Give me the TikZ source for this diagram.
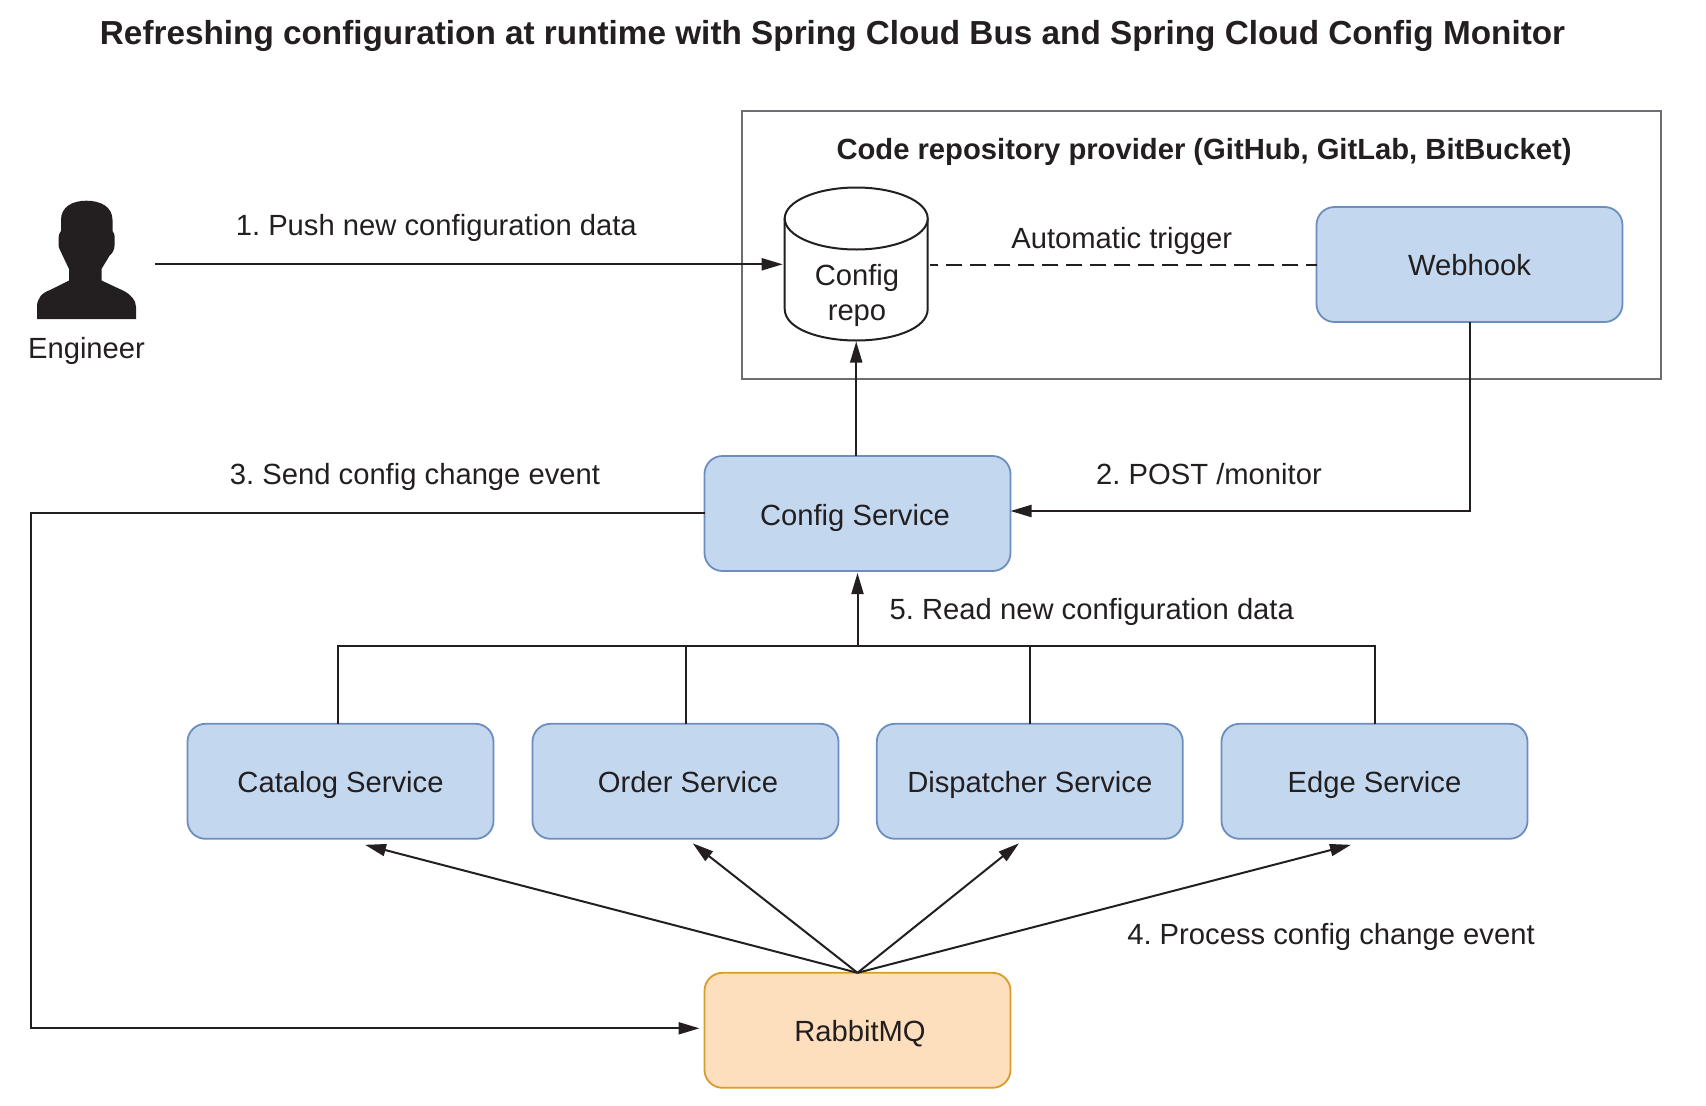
\documentclass[tikz,border=0pt]{standalone}
\usepackage{fontspec}
\setmainfont{Liberation Sans}
\usetikzlibrary{arrows.meta}
\definecolor{ink}{HTML}{231F20}
\definecolor{svcfill}{HTML}{C3D8EF}
\definecolor{svcline}{HTML}{6C8EBF}
\definecolor{mqfill}{HTML}{FDDFBD}
\definecolor{mqline}{HTML}{D99B2B}
\definecolor{framegray}{HTML}{6D6E71}
\tikzset{
  x=1pt,y=-1pt,
  every node/.style={text=ink,font=\fontsize{29.2}{35}\selectfont\frenchspacing,inner sep=0,outer sep=0,text height=23pt,text depth=0pt},
  box/.style={draw,line width=1.8pt,rounded corners=18pt,minimum width=306pt,minimum height=115pt,anchor=center},
  svc/.style={box,draw=svcline,fill=svcfill},
  mq/.style={box,draw=mqline,fill=mqfill},
  lab/.style={anchor=center},
  conn/.style={draw=ink,line width=2pt,-{Stealth[length=21pt,width=12pt,inset=0pt]},shorten >=2pt},
  tight/.style={conn,shorten >=0pt},
  plain/.style={draw=ink,line width=2pt},
  dashline/.style={draw=ink,line width=2pt,dash pattern=on 16pt off 8pt,dash phase=8pt},
}
\begin{document}
\begin{tikzpicture}
\useasboundingbox (0,0) rectangle (1706,1106);
\node[lab,font=\fontsize{33.3}{40}\bfseries\selectfont\frenchspacing] (title) at (832.5,32.5) {Refreshing configuration at runtime with Spring Cloud Bus and Spring Cloud Config Monitor};
% provider frame
\node[draw=framegray,line width=2pt,minimum width=919pt,minimum height=268pt,text height=0pt] (frame) at (1201.5,244.7) {};
\node[lab,font=\fontsize{29.2}{35}\bfseries\selectfont\frenchspacing] (ftitle) at (1204,147.5) {Code repository provider (GitHub, GitLab, BitBucket)};
% engineer
\fill[ink] (37,319) -- (37,307) .. controls (37,298) and (42,293) .. (50,290)
  -- (69,280.5) -- (69,269) -- (60,250) .. controls (58,246) and (58.7,245) .. (58.7,240)
  -- (58.7,237) .. controls (58.7,233) and (61,232) .. (61,231) -- (61,220)
  .. controls (61,207) and (72,200.7) .. (86.5,200.7)
  .. controls (101,200.7) and (112.5,207) .. (112.5,220) -- (112.5,231)
  .. controls (112.5,232) and (114.7,233) .. (114.7,237) -- (114.7,244)
  .. controls (114.7,250) and (112,254) .. (110,255) -- (101.5,269) -- (101.5,280.5)
  -- (124,291) .. controls (131,295) and (136,300) .. (136,307) -- (136,319) -- cycle;
\node[lab] (eng) at (86.5,347) {Engineer};
\coordinate (engout) at (155,264.3);
% config repo cylinder
\node[minimum width=143pt,minimum height=153.5pt,text height=0pt] (repo) at (856.2,263.75) {};
\draw[ink,line width=2pt,fill=white] (784.7,218) -- (784.7,309) .. controls (784.7,329) and (820,340.5) .. (856.2,340.5)
  .. controls (892.4,340.5) and (927.7,329) .. (927.7,309) -- (927.7,218);
\draw[ink,line width=2pt,fill=white] (856.2,218.5) ellipse [x radius=71.5,y radius=31];
\node[lab] (repot1) at (857,273.5) {Config};
\node[lab] (repot2) at (857,308.5) {repo};
% boxes
\node[svc,text height=21pt] (web) at (1469.5,264.5) {Webhook};
\node[svc] (cfg) at (857.5,513.5) {Config Service\hspace*{5pt}};
\node[svc] (cat) at (340.5,781.3) {Catalog Service};
\node[svc] (ord) at (685.5,781.3) {\hspace*{5pt}Order Service};
\node[svc] (dis) at (1029.8,781.3) {Dispatcher Service};
\node[svc] (edg) at (1374.5,781.3) {Edge Service};
\node[mq] (rmq) at (857.5,1030.3) {\hspace*{5pt}RabbitMQ};
% labels
\node[lab] (l1) at (436.3,224) {1. Push new configuration data};
\node[lab] (la) at (1121.7,236.8) {Automatic trigger};
\node[lab] (l2) at (1209,472.5) {2. POST /monitor};
\node[lab] (l3) at (415,472.5) {3. Send config change event};
\node[lab] (l5) at (1091.8,608) {5. Read new configuration data};
\node[lab] (l4) at (1331,933) {4. Process config change event};
% connectors
\draw[conn] (engout) -- (repo.west |- engout);
\coordinate (dashy) at (1000,265.3);
\draw[dashline] ([xshift=2pt]repo.east |- dashy) -- (web.west |- dashy);
\draw[conn,shorten >=1pt] (cfg.north -| repo.south) -- (repo.south);
\draw[tight] (web.south) |- ([yshift=2.5pt]cfg.east);
\coordinate (lft) at (30.5,513);
\draw[conn] ([yshift=0.5pt]cfg.west) -- (lft) |- ([xshift=-3pt,yshift=2pt]rmq.west);
\coordinate (bus) at (857.5,646);
\draw[plain] ([xshift=-2.5pt]cat.north) -- ([xshift=-2.5pt]cat.north |- bus) -- (edg.north |- bus) -- (edg.north);
\draw[plain] (ord.north) -- (ord.north |- bus);
\draw[plain] (dis.north) -- (dis.north |- bus);
\draw[conn] (bus) -- (cfg.south);
\draw[tight] (rmq.north) -- ([xshift=24.5pt,yshift=-6pt]cat.south);
\draw[tight] (rmq.north) -- ([xshift=7.2pt,yshift=-4.5pt]ord.south);
\draw[tight] (rmq.north) -- ([xshift=-10.8pt,yshift=-4.5pt]dis.south);
\draw[tight] (rmq.north) -- ([xshift=-23.5pt,yshift=-6pt]edg.south);
\end{tikzpicture}
\end{document}
